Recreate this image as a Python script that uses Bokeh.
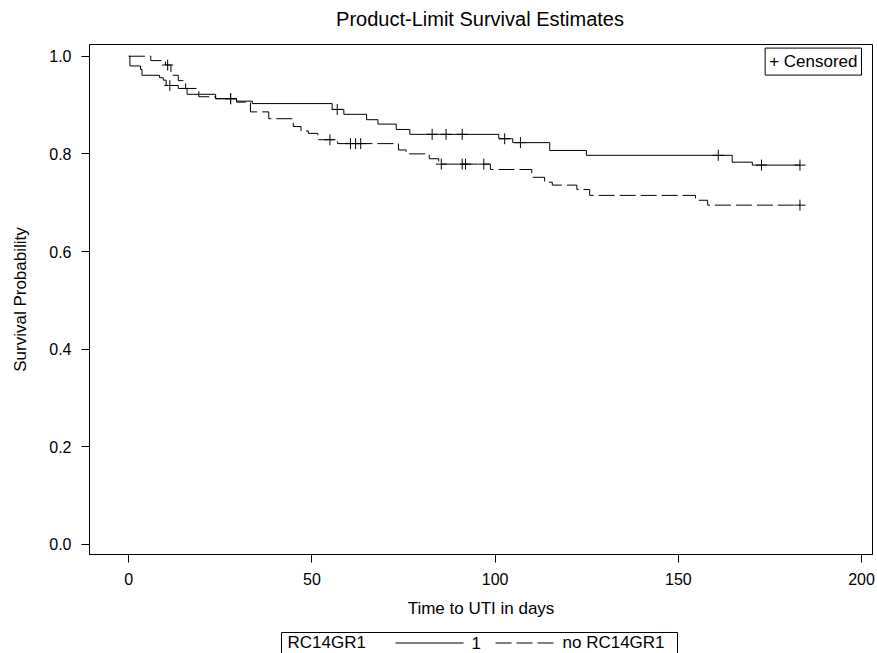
import numpy as np
from bokeh.plotting import figure
from bokeh.models import Range1d, Label, NumeralTickFormatter
from bokeh.layouts import column
from bokeh.embed import file_html
from bokeh.resources import INLINE
from bokeh.core.properties import value

FONT = "Liberation Sans"

# ---- data ----
title_text = "Product-Limit Survival Estimates"
x_label = "Time to UTI in days"
y_label = "Survival Probability"
group_title = "RC14GR1"
group_labels = ["1", "no RC14GR1"]
censor_label = "+ Censored"

x_ticks = [0, 50, 100, 150, 200]
y_ticks = [0.0, 0.2, 0.4, 0.6, 0.8, 1.0]

end_time = 183.2

# group "1" (solid)
times_1 = [0.0, 0.3, 3.2, 3.6, 8.4, 9.4, 10.2, 13.5, 15.9, 23.7, 29.4, 33.7,
           55.5, 58.7, 64.9, 68.0, 73.0, 76.7, 101.0, 104.8, 114.9, 124.9,
           164.7, 170.2]
surv_1 = [1.000, 0.980, 0.973, 0.961, 0.956, 0.951, 0.940, 0.934, 0.922, 0.913,
          0.908, 0.903, 0.891, 0.881, 0.870, 0.861, 0.850, 0.840, 0.831, 0.823,
          0.807, 0.797, 0.783, 0.777]
cens_1 = [11.2, 27.8, 56.9, 82.8, 86.6, 91.0, 102.6, 106.9, 160.9, 172.7, 183.2]

# group "no RC14GR1" (dashed)
times_2 = [0.0, 6.0, 10.0, 11.5, 13.5, 15.5, 19.1, 23.7, 29.4, 33.2, 38.2,
           44.9, 47.0, 49.0, 51.6, 57.0, 73.6, 75.7, 82.0, 84.6, 98.7, 110.0,
           113.5, 115.6, 122.3, 125.8, 154.7, 158.0]
surv_2 = [1.000, 0.991, 0.982, 0.961, 0.950, 0.934, 0.917, 0.913, 0.906, 0.886,
          0.872, 0.856, 0.847, 0.842, 0.829, 0.821, 0.808, 0.800, 0.790, 0.779,
          0.768, 0.752, 0.742, 0.736, 0.727, 0.715, 0.705, 0.695]
cens_2 = [10.6, 27.8, 54.9, 60.5, 61.9, 63.3, 85.3, 91.0, 91.9, 96.9, 183.2]


def step_xy(t, s, end):
    return list(t) + [end], list(s) + [s[-1]]


def surv_at(t, s, c):
    idx = np.searchsorted(np.asarray(t), np.asarray(c), side="right") - 1
    return list(np.asarray(s)[idx])


W = 877
BL, BR = 89, 5  # left / right borders shared by all strips
X0, X1 = -10.73, 203.0
Y0, Y1 = -0.0205, 1.024


def strip(height):
    """A blank strip whose x coordinates are page pixels (frame aligned with the plot)."""
    s = figure(width=W, height=height,
               x_range=Range1d(BL, W - BR), y_range=Range1d(height, 0),
               output_backend="svg", toolbar_location=None,
               min_border_left=BL, min_border_right=BR,
               min_border_top=0, min_border_bottom=0,
               x_axis_location=None, y_axis_location=None)
    s.outline_line_color = None
    s.grid.visible = False
    return s


# ---- title strip ----
TITLE_H = 43
top = strip(TITLE_H)
top.text([(BL + W - BR) / 2 - 1], [18], text=[title_text], text_font=value(FONT),
         text_font_size="20px", text_align="center", text_baseline="middle",
         text_color="black")

# ---- main plot ----
p = figure(width=W, height=585,
           x_range=Range1d(X0, X1), y_range=Range1d(Y0, Y1),
           output_backend="svg", toolbar_location=None,
           min_border_left=BL, min_border_right=BR,
           min_border_top=1, min_border_bottom=74)

p.grid.visible = False
p.outline_line_color = "black"
p.outline_line_width = 1
p.background_fill_color = "white"
p.border_fill_color = "white"

p.xaxis.ticker = x_ticks
p.yaxis.ticker = y_ticks
p.yaxis.formatter = NumeralTickFormatter(format="0.0")

for ax in (p.xaxis[0], p.yaxis[0]):
    ax.major_tick_out = 8
    ax.major_tick_in = 0
    ax.minor_tick_out = 0
    ax.minor_tick_in = 0
    ax.axis_line_color = "black"
    ax.major_tick_line_color = "black"
    ax.major_label_text_font = FONT
    ax.major_label_text_font_size = "16px"
    ax.major_label_text_color = "black"
    ax.axis_label_text_font = FONT
    ax.axis_label_text_font_size = "17px"
    ax.axis_label_text_font_style = "normal"
    ax.axis_label_text_color = "black"

p.xaxis.major_label_standoff = 10
p.yaxis.major_label_standoff = 10
p.xaxis.axis_label = x_label
p.yaxis.axis_label = y_label
p.xaxis.axis_label_standoff = 11
p.yaxis.axis_label_standoff = 16

x1, y1 = step_xy(times_1, surv_1, end_time)
x2, y2 = step_xy(times_2, surv_2, end_time)
p.step(x1, y1, mode="after", line_color="black", line_width=1)
p.step(x2, y2, mode="after", line_color="black", line_width=1, line_dash="16 5")

p.scatter(cens_1, surv_at(times_1, surv_1, cens_1), marker="cross", size=11,
          line_color="black", line_width=1)
p.scatter(cens_2, surv_at(times_2, surv_2, cens_2), marker="cross", size=11,
          line_color="black", line_width=1)

p.add_layout(Label(x=200.0, y=0.989, text=censor_label, text_align="right",
                   text_baseline="middle", text_font=FONT, text_font_size="17px",
                   text_color="black", border_line_color="black",
                   border_line_width=1, background_fill_color="white",
                   padding=4))

# ---- bottom legend strip ----
LG_H = 25
lg = strip(LG_H)
box_l, box_r, box_t = 281, 677, 4
row_y = 14
lg.line([box_l, box_l, box_r, box_r], [LG_H, box_t, box_t, LG_H],
        line_color="black", line_width=1)
lg.text([287], [row_y], text=[group_title], text_font=value(FONT),
        text_font_size="17px", text_baseline="middle", text_color="black")
lg.line([395, 463], [row_y + 0.5, row_y + 0.5], line_color="black", line_width=1)
lg.text([471], [row_y], text=[group_labels[0]], text_font=value(FONT),
        text_font_size="17px", text_baseline="middle", text_color="black")
lg.line([495, 555], [row_y + 0.5, row_y + 0.5], line_color="black", line_width=1,
        line_dash="16 5")
lg.text([562], [row_y], text=[group_labels[1]], text_font=value(FONT),
        text_font_size="17px", text_baseline="middle", text_color="black")

layout = column(top, p, lg, spacing=0)
open("out.html", "w").write(file_html(layout, INLINE))
